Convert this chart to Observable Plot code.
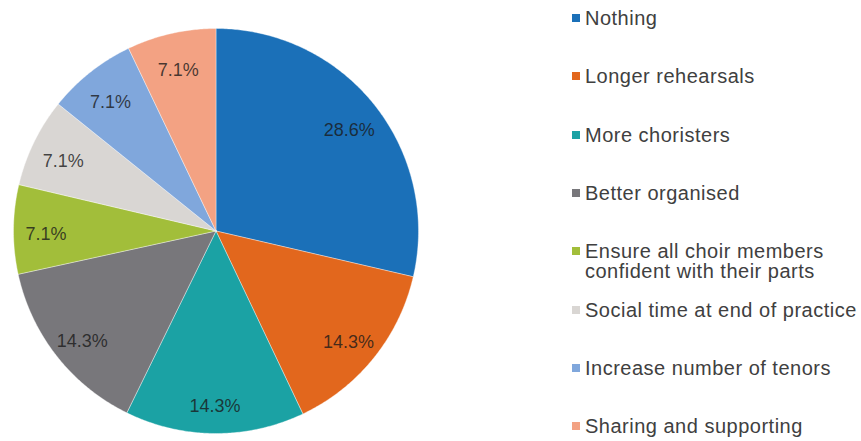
<!DOCTYPE html>
<html>
<head>
<meta charset="utf-8">
<script src="https://cdn.jsdelivr.net/npm/d3@7"></script>
<script src="https://cdn.jsdelivr.net/npm/@observablehq/plot@0.6"></script>
<style>
  html, body { margin: 0; padding: 0; background: #fff; }
  #wrap { position: relative; width: 861px; height: 441px; font-family: "Liberation Sans", Arial, sans-serif; }
  #legend { position: absolute; left: 572px; top: 0; }
  .item { position: absolute; left: 0; white-space: nowrap; font-size: 20px; line-height: 20px; color: #404040; letter-spacing: 0.5px; }
  .sw { position: absolute; left: 0; top: 6px; width: 8px; height: 8px; }
  .lab { position: absolute; left: 13px; top: 0; }
</style>
</head>
<body>
<div id="wrap"><div id="chart"></div><div id="legend"></div></div>
<script>
const categories = ["Nothing", "Longer rehearsals", "More choristers", "Better organised",
  "Ensure all choir members\nconfident with their parts", "Social time at end of practice",
  "Increase number of tenors", "Sharing and supporting"];
const values = [28.6, 14.3, 14.3, 14.3, 7.1, 7.1, 7.1, 7.1];
const colors = ["#1B70B8", "#E2671D", "#1BA2A4", "#78777B", "#A2BE3A", "#D9D6D3", "#80A7DC", "#F3A283"];

const total = d3.sum(values);
let acc = 0;
const slices = values.map((v, i) => {
  const a0 = acc / total * 2 * Math.PI;
  acc += v;
  const a1 = acc / total * 2 * Math.PI;
  return {name: categories[i], value: v, a0, a1};
});

// polygon vertices for each slice (derived from values)
const pts = [];
for (const s of slices) {
  pts.push({name: s.name, x: 0, y: 0});
  const n = Math.max(2, Math.ceil((s.a1 - s.a0) / (Math.PI / 360)));
  for (let k = 0; k <= n; k++) {
    const a = s.a0 + (s.a1 - s.a0) * k / n;
    pts.push({name: s.name, x: Math.sin(a), y: Math.cos(a)});
  }
  pts.push({name: s.name, x: 0, y: 0});
}
const labelR = 0.84;
const labels = slices.map(s => {
  const m = (s.a0 + s.a1) / 2;
  return {x: labelR * Math.sin(m), y: labelR * Math.cos(m), t: s.value.toFixed(1) + "%"};
});

const plot = Plot.plot({
  width: 861,
  height: 441,
  marginLeft: 13,
  marginRight: 443,
  marginTop: 28,
  marginBottom: 8,
  x: {domain: [-1, 1], axis: null},
  y: {domain: [-1, 1], axis: null},
  color: {domain: categories, range: colors},
  style: {fontFamily: "Liberation Sans, Arial, sans-serif", background: "#fff"},
  marks: [
    Plot.line(pts, {x: "x", y: "y", z: "name", fill: "name", stroke: "#fff", strokeOpacity: 0.5, strokeWidth: 0.75, curve: "linear-closed"}),
    Plot.text(labels, {x: "x", y: "y", dy: 5, text: "t", fontSize: 18, fill: "#1a1a1a", fillOpacity: 0.8})
  ]
});
document.getElementById("chart").append(plot);

const legend = document.getElementById("legend");
const legendTop = 8, legendStep = 58.3;
categories.forEach((c, i) => {
  const item = document.createElement("div");
  item.className = "item";
  item.style.top = (legendTop + i * legendStep) + "px";
  const sw = document.createElement("div");
  sw.className = "sw";
  sw.style.background = colors[i];
  const lab = document.createElement("div");
  lab.className = "lab";
  lab.innerHTML = c.split("\n").join("<br>");
  item.append(sw, lab);
  legend.append(item);
});
</script>
</body>
</html>
